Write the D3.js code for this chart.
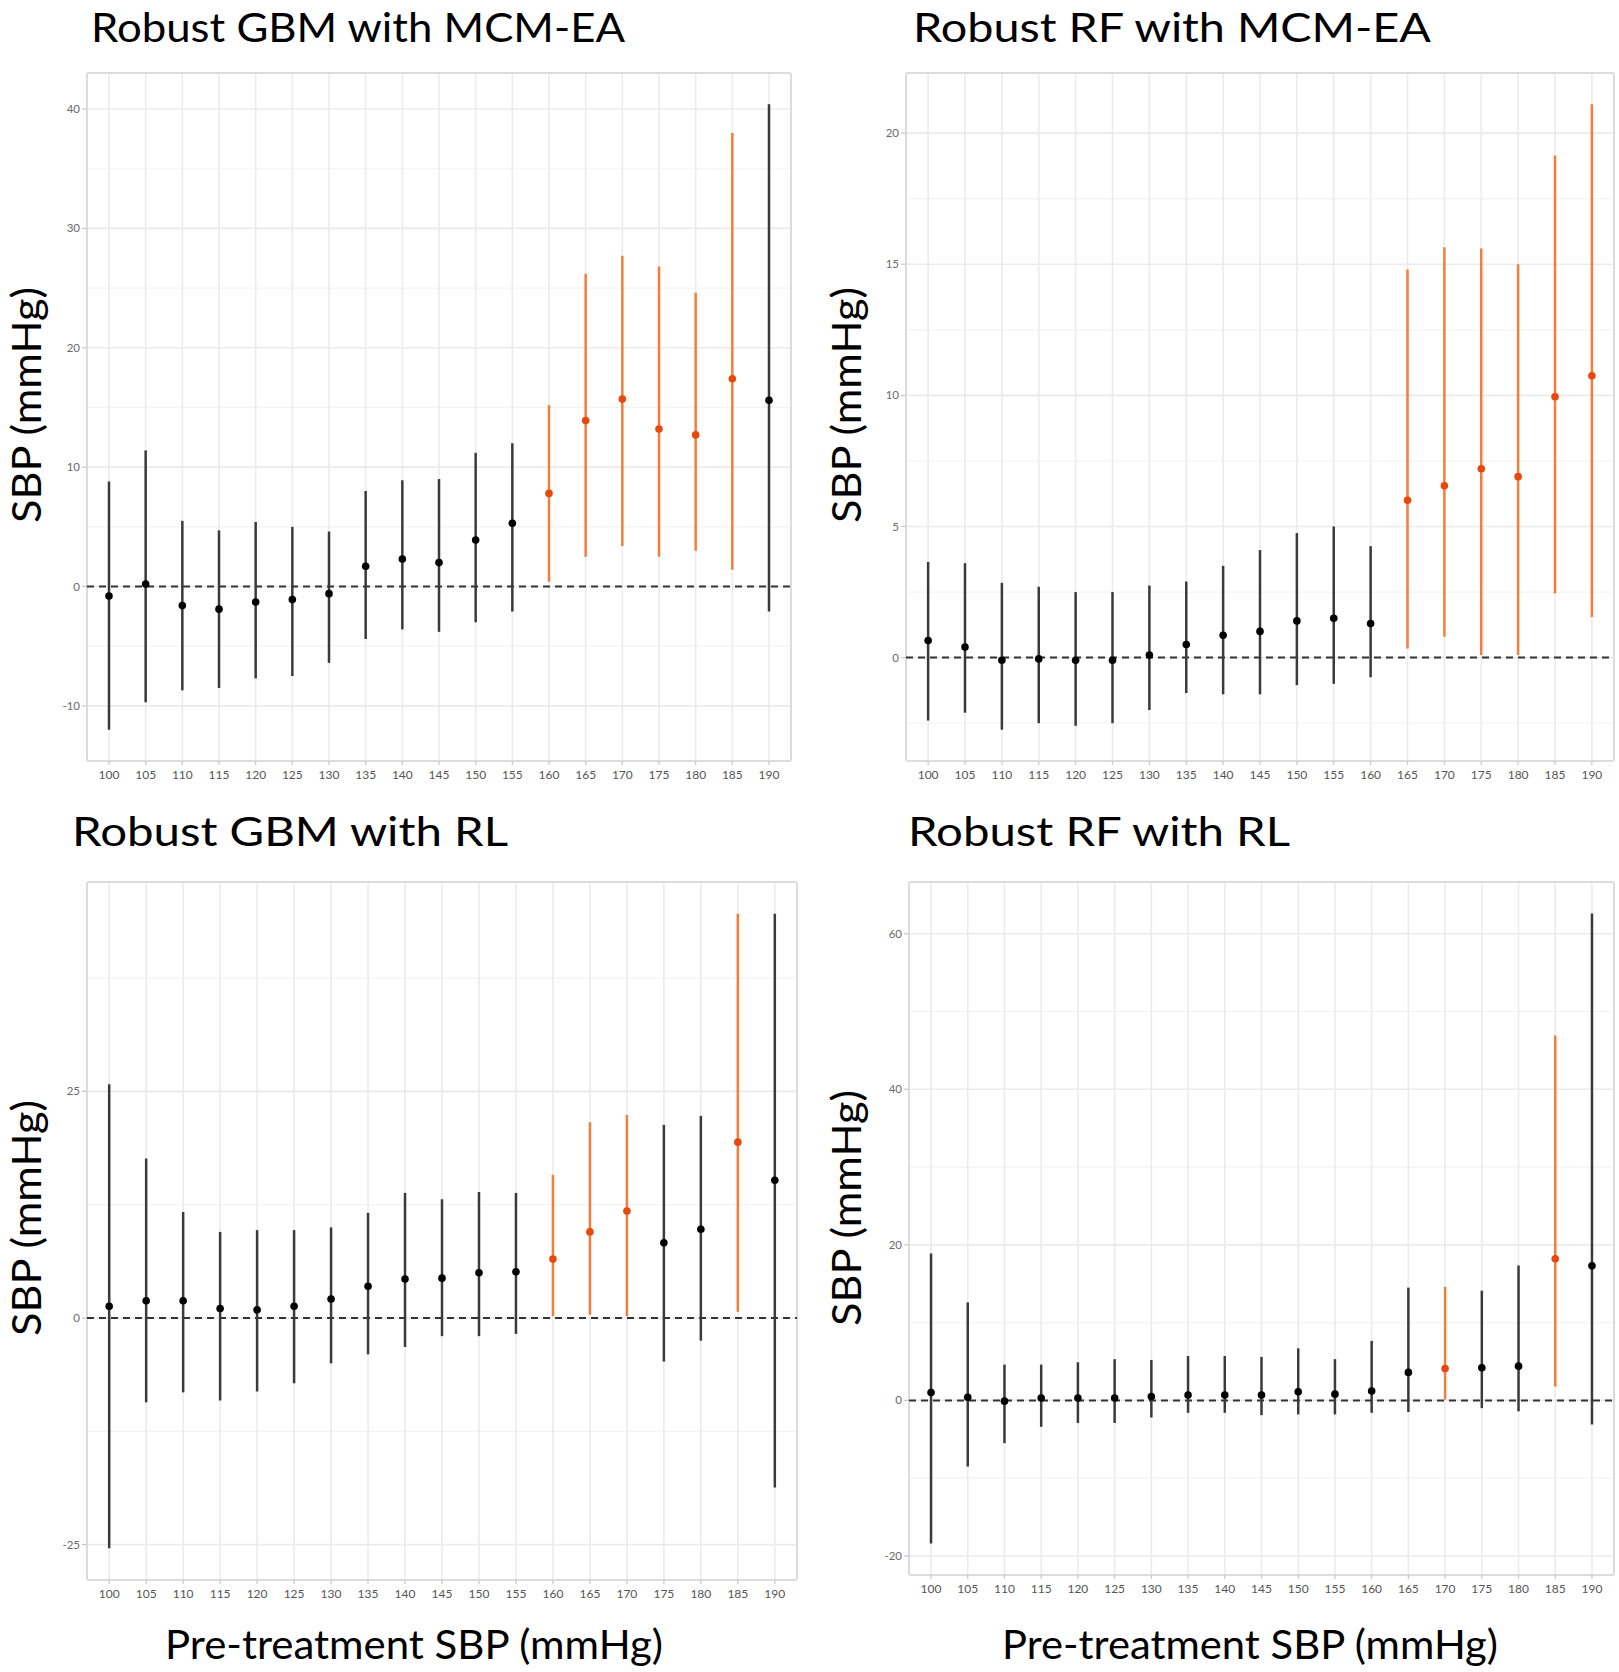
<!DOCTYPE html>
<html><head><meta charset="utf-8">
<script src="https://cdn.jsdelivr.net/npm/d3@7"></script>
<style>body{margin:0;background:#fff;} svg{display:block}</style>
</head><body>
<svg id="c" width="1619" height="1672"></svg>
<script>
// ---- data ----
const sbpLevels = [100,105,110,115,120,125,130,135,140,145,150,155,160,165,170,175,180,185,190];

const gbmEaEst = [-0.8, 0.2,-1.6,-1.9,-1.3,-1.1,-0.6, 1.7, 2.3, 2.0, 3.9, 5.3, 7.8,13.9,15.7,13.2,12.7,17.4,15.6];
const gbmEaLo  = [-12.0,-9.7,-8.7,-8.5,-7.7,-7.5,-6.4,-4.4,-3.6,-3.8,-3.0,-2.1, 0.4, 2.5, 3.4, 2.5, 3.0, 1.4,-2.1];
const gbmEaHi  = [ 8.8,11.4, 5.5, 4.7, 5.4, 5.0, 4.6, 8.0, 8.9, 9.0,11.2,12.0,15.2,26.2,27.7,26.8,24.6,38.0,40.4];
const gbmEaSig = [0,0,0,0,0,0,0,0,0,0,0,0,1,1,1,1,1,1,0];

const rfEaEst = [0.65,0.4,-0.1,-0.05,-0.1,-0.1,0.1,0.5,0.85,1.0,1.4,1.5,1.3,6.0,6.55,7.2,6.9,9.95,10.75];
const rfEaLo  = [-2.4,-2.1,-2.75,-2.5,-2.6,-2.5,-2.0,-1.35,-1.4,-1.4,-1.05,-1.0,-0.75,0.35,0.8,0.1,0.1,2.45,1.55];
const rfEaHi  = [3.65,3.6,2.85,2.7,2.5,2.5,2.75,2.9,3.5,4.1,4.75,5.0,4.25,14.8,15.65,15.6,15.0,19.15,21.1];
const rfEaSig = [0,0,0,0,0,0,0,0,0,0,0,0,0,1,1,1,1,1,1];

const gbmRlEst = [1.3,1.9,1.9,1.05,0.9,1.3,2.1,3.5,4.3,4.4,5.0,5.1,6.5,9.5,11.8,8.3,9.8,19.4,15.2];
const gbmRlLo  = [-25.4,-9.3,-8.2,-9.1,-8.1,-7.2,-5.0,-4.0,-3.2,-2.0,-2.0,-1.75,0.2,0.35,0.2,-4.8,-2.5,0.7,-18.7];
const gbmRlHi  = [25.8,17.6,11.7,9.5,9.7,9.7,10.0,11.6,13.8,13.1,13.9,13.8,15.8,21.6,22.4,21.3,22.3,44.6,44.6];
const gbmRlSig = [0,0,0,0,0,0,0,0,0,0,0,0,1,1,1,0,0,1,0];

const rfRlEst = [1.0,0.4,-0.1,0.3,0.3,0.3,0.5,0.7,0.7,0.7,1.1,0.8,1.2,3.6,4.1,4.2,4.4,18.2,17.3];
const rfRlLo  = [-18.4,-8.5,-5.5,-3.4,-2.9,-2.9,-2.2,-1.6,-1.6,-1.9,-1.8,-1.8,-1.6,-1.5,0.1,-1.0,-1.4,1.8,-3.1];
const rfRlHi  = [18.9,12.6,4.6,4.6,4.9,5.3,5.2,5.7,5.7,5.6,6.7,5.3,7.65,14.5,14.6,14.1,17.35,46.9,62.6];
const rfRlSig = [0,0,0,0,0,0,0,0,0,0,0,0,0,0,1,0,0,1,0];

const titles = ["Robust GBM with MCM-EA","Robust RF with MCM-EA","Robust GBM with RL","Robust RF with RL"];
const yTicks1 = [-10,0,10,20,30,40];
const yTicks2 = [0,5,10,15,20];
const yTicks3 = [-25,0,25];
const yTicks4 = [-20,0,20,40,60];
const yLabel = "SBP (mmHg)";
const xLabel = "Pre-treatment SBP (mmHg)";

// ---- layout ----
const layout = [
  {est:gbmEaEst, lo:gbmEaLo, hi:gbmEaHi, sig:gbmEaSig, ticks:yTicks1,
   box:[87,791,73,761], title:[91,42,534], ylab:[27,405,236], xlab:null},
  {est:rfEaEst, lo:rfEaLo, hi:rfEaHi, sig:rfEaSig, ticks:yTicks2,
   box:[906,1614,73,761], title:[913,42,518], ylab:[847,405,236], xlab:null},
  {est:gbmRlEst, lo:gbmRlLo, hi:gbmRlHi, sig:gbmRlSig, ticks:yTicks3,
   box:[87,797,882,1580], title:[72,846,436], ylab:[27,1218,236], xlab:[414,1659,498]},
  {est:rfRlEst, lo:rfRlLo, hi:rfRlHi, sig:rfRlSig, ticks:yTicks4,
   box:[909,1614,882,1575], title:[908,846,382], ylab:[847,1208,236], xlab:[1250,1659,496]}
];

const FONT = "Lato, 'Open Sans', sans-serif";
const svg = d3.select("#c");

function fitText(sel, target, size){
  sel.attr("font-size", size).attr("textLength", target).attr("lengthAdjust","spacingAndGlyphs");
}

layout.forEach((p,i)=>{
  const [x0,x1,y0,y1] = p.box;
  const g = svg.append("g");
  // ggplot-like discrete expansion: 0.6 of a step on each side
  const x = d3.scalePoint().domain(sbpLevels).range([x0,x1]).padding(0.6);
  const xs = d => x(d);
  const mn = d3.min(p.lo), mx = d3.max(p.hi), ex = (mx-mn)*0.05;
  const y = d3.scaleLinear().domain([mn-ex, mx+ex]).range([y1,y0]);

  // minor grid
  const tstep = p.ticks[1]-p.ticks[0];
  const minors = [];
  for(let v=p.ticks[0]-tstep/2; v<=mx+ex; v+=tstep){ if(v>=mn-ex) minors.push(v); }
  g.selectAll(".mn").data(minors).join("line")
    .attr("x1",x0).attr("x2",x1).attr("y1",d=>y(d)).attr("y2",d=>y(d))
    .attr("stroke","#f3f3f3").attr("stroke-width",1.2);
  // major grid
  g.selectAll(".mj").data(p.ticks).join("line")
    .attr("x1",x0).attr("x2",x1).attr("y1",d=>y(d)).attr("y2",d=>y(d))
    .attr("stroke","#ebebeb").attr("stroke-width",1.6);
  g.selectAll(".vg").data(sbpLevels).join("line")
    .attr("x1",d=>xs(d)).attr("x2",d=>xs(d)).attr("y1",y0).attr("y2",y1)
    .attr("stroke","#ebebeb").attr("stroke-width",1.6);
  // border
  g.append("rect").attr("x",x0).attr("y",y0).attr("width",x1-x0).attr("height",y1-y0)
    .attr("fill","none").attr("stroke","#dcdcdc").attr("stroke-width",2).attr("rx",2);

  // y axis ticks & labels
  g.selectAll(".yt").data(p.ticks).join("line")
    .attr("x1",x0-5).attr("x2",x0).attr("y1",d=>y(d)).attr("y2",d=>y(d))
    .attr("stroke","#c8c8c8").attr("stroke-width",1.2);
  g.selectAll(".yl").data(p.ticks).join("text")
    .attr("x",x0-7).attr("y",d=>y(d)).attr("dy","0.35em")
    .attr("text-anchor","end").attr("font-family",FONT).attr("font-size",11.5)
    .attr("fill","#6a6a6a").text(d=>d);
  // x axis ticks & labels
  g.selectAll(".xt").data(sbpLevels).join("line")
    .attr("x1",d=>xs(d)).attr("x2",d=>xs(d)).attr("y1",y1).attr("y2",y1+4)
    .attr("stroke","#c8c8c8").attr("stroke-width",1.2);
  g.selectAll(".xl").data(sbpLevels).join("text")
    .attr("x",d=>xs(d)).attr("y",y1+14).attr("dy","0.35em")
    .attr("text-anchor","middle").attr("font-family",FONT).attr("font-size",12)
    .attr("fill","#555").text(d=>d);

  // zero line
  g.append("line").attr("x1",x0).attr("x2",x1).attr("y1",y(0)).attr("y2",y(0))
    .attr("stroke","#333").attr("stroke-width",2).attr("stroke-dasharray","7,5");

  // error bars
  const idx = d3.range(sbpLevels.length);
  g.selectAll(".eb").data(idx).join("line")
    .attr("x1",k=>xs(sbpLevels[k])).attr("x2",k=>xs(sbpLevels[k]))
    .attr("y1",k=>y(p.lo[k])).attr("y2",k=>y(p.hi[k]))
    .attr("stroke",k=>p.sig[k]?"#f47d3e":"#3a3a3a").attr("stroke-width",2.5);
  g.selectAll(".pt").data(idx).join("circle")
    .attr("cx",k=>xs(sbpLevels[k])).attr("cy",k=>y(p.est[k])).attr("r",3.8)
    .attr("fill",k=>p.sig[k]?"#e8480c":"#000");

  // title
  const t = svg.append("text").attr("x",p.title[0]).attr("y",p.title[1])
    .attr("font-family",FONT).attr("fill","#000").text(titles[i]);
  fitText(t, p.title[2], 40);
  // y label
  const yl = svg.append("text").attr("transform",`translate(${p.ylab[0]},${p.ylab[1]}) rotate(-90)`)
    .attr("text-anchor","middle").attr("dy","0.35em").attr("font-family",FONT).attr("fill","#000").text(yLabel);
  fitText(yl, p.ylab[2], 40);
  if(p.xlab){
    const xl = svg.append("text").attr("x",p.xlab[0]).attr("y",p.xlab[1])
      .attr("text-anchor","middle").attr("font-family",FONT).attr("fill","#000").text(xLabel);
    fitText(xl, p.xlab[2], 40);
  }
});
</script>
</body></html>
